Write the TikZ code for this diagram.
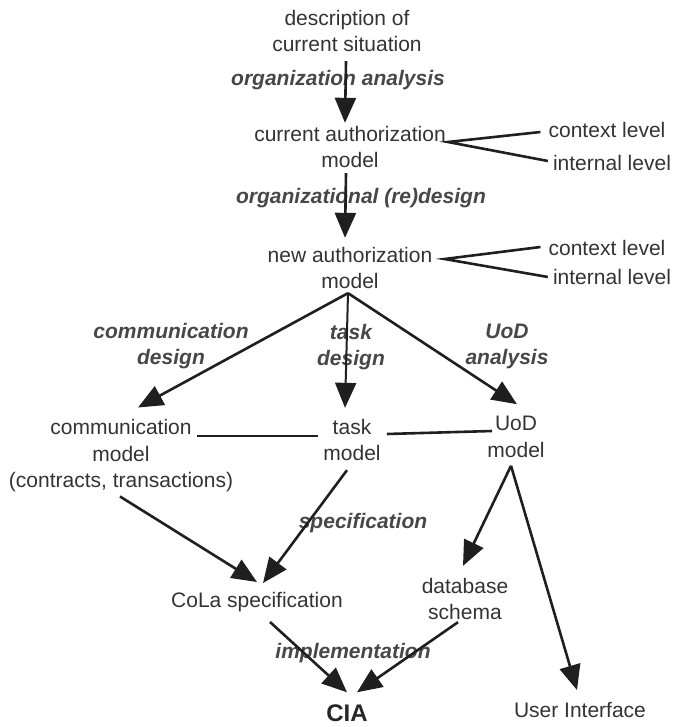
\documentclass[tikz,border=0pt]{standalone}
\usepackage{fontspec}
\setmainfont{Liberation Sans}
\usetikzlibrary{arrows.meta}
\begin{document}
\begin{tikzpicture}[x=1pt,y=-1pt,
  txt/.style={inner sep=0pt, align=center, text=black!80, font=\fontsize{21}{26.5}\selectfont},
  lbl/.style={inner sep=0pt, align=center, text=black!72, font=\fontsize{21}{26}\selectfont\bfseries\itshape},
  conn/.style={line width=2.6pt, draw=black!88},
  arr/.style={conn, -{Triangle[length=25pt,width=21pt]}},
]
\useasboundingbox (0,0) rectangle (674,727);

% models and products
\node[txt] (desc) at (347,31) {description of\\current situation};
\node[txt] (cur)  at (350,147) {current authorization\\model};
\node[txt] (new)  at (350,268) {new authorization\\model};
\node[txt] (ctxA) at (607,130) {context level};
\node[txt] (intA) at (612,163) {internal level};
\node[txt] (ctxB) at (607,248) {context level};
\node[txt] (intB) at (612,277) {internal level};
\node[txt] (comm) at (121,456) {communication\\model\\(contracts, transactions)};
\node[txt] (task) at (352,440) {task\\model};
\node[txt] (uod)  at (516,437) {UoD\\model};
\node[txt] (cola) at (257,602) {CoLa specification};
\node[txt] (db)   at (465,599) {database\\schema};
\node[inner sep=0pt, text=black!85, font={\fontsize{24}{28}\selectfont\bfseries}] (cia) at (347,713) {CIA};
\node[txt] (ui)   at (580,710) {User Interface};

% activity labels
\node[lbl] (l1) at (338,80) {organization analysis};
\node[lbl] (l2) at (361,198) {organizational (re)design};
\node[lbl] (l3) at (171,346) {communication\\design};
\node[lbl] (l4) at (351,347) {task\\design};
\node[lbl] (l5) at (507,346) {UoD\\analysis};
\node[lbl] (l6) at (363,523) {specification};
\node[lbl] (l7) at (353,653) {implementation};

% main flow
\draw[arr] ([xshift=-1pt,yshift=-9pt]desc.south) -- ([xshift=-5pt,yshift=3pt]cur.north);
\draw[arr] ([xshift=-4pt,yshift=-5pt]cur.south) -- ([xshift=-5pt,yshift=9pt]new.north);
\coordinate (apex) at ([xshift=-2pt,yshift=-4pt]new.south);
\draw[arr] (apex) -- ([xshift=17pt,yshift=12pt]comm.north);
\draw[arr, line width=2pt] (apex) -- ([xshift=-7pt,yshift=11pt]task.north);
\draw[arr] (apex) -- ([xshift=1pt,yshift=12pt]uod.north);

% levels
\coordinate (vA) at ([xshift=2pt,yshift=5pt]cur.east);
\draw[conn] ([xshift=-8pt,yshift=-2pt]ctxA.west) -- (vA) -- ([xshift=-5pt,yshift=2pt]intA.west);
\coordinate (vB) at ([xshift=12pt,yshift=9pt]new.east);
\draw[conn] ([xshift=-8pt,yshift=1pt]ctxB.west) -- (vB) -- ([xshift=-5pt]intB.west);

% links between the three models
\draw[conn] ([xshift=76pt,yshift=20pt]comm.center) -- ([xshift=-5pt,yshift=4pt]task.west);
\draw[conn] ([xshift=6pt,yshift=6pt]task.east) -- ([xshift=5pt,yshift=6pt]uod.west);

% lower flow
\draw[arr] ([xshift=-1pt,yshift=-4pt]comm.south) -- ([yshift=10pt]cola.north);
\draw[arr] ([xshift=-5pt,yshift=-9pt]task.south) -- ([xshift=6pt,yshift=9pt]cola.north);
\coordinate (uapex) at ([xshift=-5pt,yshift=-8pt]uod.south);
\draw[arr] (uapex) -- ([xshift=-2pt,yshift=12pt]db.north);
\draw[arr] (uapex) -- ([xshift=-3pt,yshift=12pt]ui.north);
\draw[arr] ([xshift=13pt,yshift=-10pt]cola.south) -- ([yshift=12pt]cia.north);
\draw[arr] ([xshift=-7pt,yshift=-2pt]db.south) -- ([xshift=10pt,yshift=12pt]cia.north);
\end{tikzpicture}
\end{document}
